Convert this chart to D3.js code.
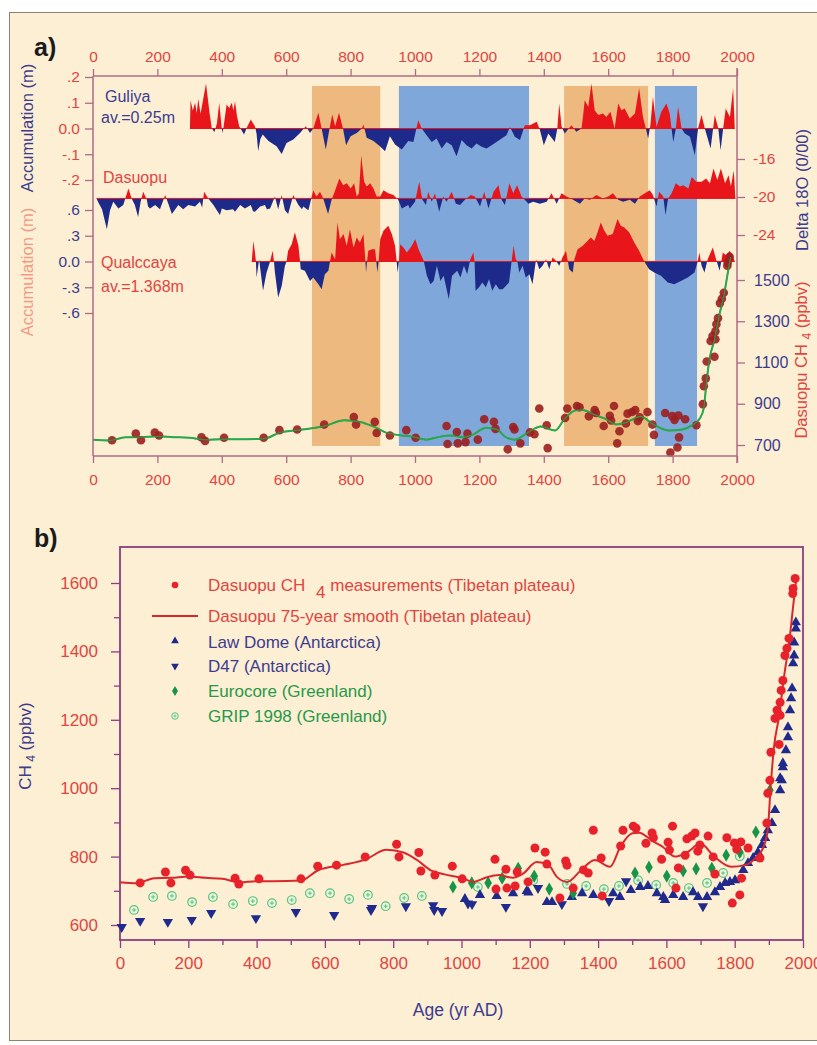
<!DOCTYPE html>
<html>
<head>
<meta charset="utf-8">
<script src="https://cdn.jsdelivr.net/npm/d3@7"></script>
<style>
body { margin: 0; background: #fff; }
text { font-family: "Liberation Sans", Arial, sans-serif; }
</style>
</head>
<body>
<script>
// ---- data ----
var AGE_TICKS = d3.range(0, 2001, 200)

// warm / cold periods shaded in panel a: [start, end, kind]
var PERIODS = [[680, 892, "warm"], [950, 1354, "cold"], [1463, 1724, "warm"], [1745, 1876, "cold"]]

// Guliya accumulation anomaly (m)
var GULIYA = [[301,0],[303,0.11],[310,0.07],[317,0.1],[322,0.06],[327,0.115],[334,0.057],[351,0.175],[362,0.06],[369,0],[377,-0.014],[385,0.02],[392,0.1],[400,0],[403,-0.017],[407,0.02],[415,0.093],[423,0.08],[431,0.1],[436,0.07],[441,0.106],[447,0.05],[454,0.009],[469,-0.023],[480,0.01],[490,0.035],[497,0.02],[503,0.009],[508,-0.02],[513,-0.088],[520,-0.04],[527,-0.023],[545,-0.049],[570,-0.069],[586,-0.099],[601,-0.056],[622,-0.043],[643,-0.017],[661,0.009],[674,-0.017],[684,0],[700,0.061],[710,0],[723,-0.082],[734,-0.004],[743,0.054],[752,0.009],[764,0.061],[777,-0.004],[786,-0.065],[800,-0.03],[819,-0.017],[835,0],[840,0.016],[850,-0.036],[871,-0.049],[891,-0.069],[907,-0.088],[922,-0.03],[938,-0.062],[959,-0.082],[979,-0.049],[995,-0.052],[1010,0.032],[1021,0],[1036,-0.026],[1052,-0.052],[1067,-0.039],[1083,-0.078],[1098,-0.052],[1114,-0.065],[1129,-0.108],[1145,-0.045],[1160,-0.065],[1176,-0.078],[1191,-0.058],[1207,-0.071],[1222,-0.078],[1238,-0.065],[1253,-0.052],[1269,-0.039],[1284,-0.026],[1295,0.006],[1310,-0.032],[1326,-0.045],[1341,0.013],[1357,0.013],[1378,0.026],[1388,-0.006],[1400,-0.065],[1414,-0.019],[1434,-0.052],[1442,0],[1448,0.097],[1455,0.01],[1458,0],[1465,-0.019],[1486,0.013],[1501,-0.013],[1517,0],[1522,0.05],[1527,0.11],[1538,0.084],[1548,0.175],[1558,0.071],[1569,0.052],[1584,0.058],[1594,0.045],[1607,0.065],[1620,0],[1631,0.097],[1641,0.071],[1651,0.078],[1667,0.039],[1683,0.058],[1696,0.156],[1708,0.045],[1717,0],[1724,-0.039],[1731,0.013],[1739,0.123],[1750,0.006],[1765,0.065],[1781,0.097],[1791,0.058],[1802,-0.052],[1810,0],[1817,0.084],[1828,0],[1838,-0.019],[1854,-0.032],[1869,-0.104],[1879,0],[1890,0.052],[1900,0],[1918,-0.078],[1931,0.052],[1942,0],[1949,-0.084],[1957,0],[1965,0.078],[1978,0.045],[1988,0.156],[1993,0]]

// Dasuopu delta 18O (per mil); fill is drawn about DASUOPU_MEAN
var DASUOPU_MEAN = -20.15
var DASUOPU = [[11,-20.15],[17,-20.6],[28,-21.3],[43,-23.4],[53,-21.4],[63,-20.5],[79,-21.2],[94,-20.85],[110,-19.1],[120,-20.15],[130,-20.85],[140,-22.1],[148,-20.5],[156,-19.45],[167,-20.3],[171,-21.0],[177,-21.2],[193,-20.85],[208,-21.3],[224,-19.8],[234,-20.7],[245,-21.8],[265,-20.85],[280,-21.3],[296,-20.85],[317,-21.0],[332,-20.5],[339,-21.1],[345,-19.45],[358,-20.15],[374,-20.85],[394,-21.9],[400,-21.2],[415,-21.4],[435,-21.3],[441,-21.55],[457,-20.85],[472,-21.2],[490,-20.85],[497,-21.5],[503,-21.55],[519,-21.0],[534,-20.85],[540,-21.3],[550,-21.2],[565,-19.95],[575,-21.3],[586,-19.8],[596,-21.4],[606,-21.8],[622,-19.8],[638,-20.85],[649,-21.3],[653,-21.0],[669,-21.4],[684,-19.3],[694,-19.95],[705,-19.45],[715,-20.15],[730,-21.8],[741,-20.3],[754,-19.1],[765,-18.05],[777,-18.75],[788,-18.55],[800,-19.1],[811,-18.55],[819,-19.95],[826,-19.6],[833,-15.6],[842,-18.4],[850,-18.9],[861,-18.55],[871,-19.1],[881,-19.95],[892,-19.95],[902,-19.3],[917,-19.6],[933,-19.8],[948,-20.3],[959,-21.2],[979,-20.85],[984,-21.2],[1000,-20.5],[1013,-18.4],[1023,-20.3],[1034,-20.85],[1041,-19.45],[1052,-20.5],[1062,-19.6],[1075,-21.55],[1088,-19.95],[1098,-20.5],[1114,-19.45],[1127,-20.7],[1140,-20.85],[1155,-20.3],[1173,-19.8],[1186,-19.95],[1202,-21.0],[1215,-19.45],[1228,-21.2],[1244,-19.45],[1259,-18.75],[1269,-20.3],[1279,-20.85],[1293,-18.55],[1305,-19.6],[1317,-18.75],[1331,-19.95],[1341,-20.3],[1352,-20.7],[1367,-20.5],[1388,-20.7],[1409,-20.5],[1424,-19.6],[1440,-20.7],[1455,-19.6],[1471,-19.95],[1491,-20.3],[1512,-20.7],[1527,-20.15],[1543,-20.3],[1563,-19.8],[1584,-20.15],[1600,-19.95],[1615,-19.6],[1631,-20.3],[1646,-20.5],[1667,-20.3],[1683,-20.7],[1698,-19.95],[1714,-19.6],[1729,-19.3],[1739,-19.8],[1750,-21.0],[1758,-19.45],[1771,-19.95],[1778,-21.9],[1786,-20.15],[1797,-19.6],[1810,-18.55],[1823,-18.9],[1833,-18.75],[1849,-19.1],[1859,-17.9],[1874,-18.4],[1890,-18.4],[1904,-18.05],[1916,-18.55],[1927,-17.0],[1939,-18.2],[1950,-17.0],[1963,-18.55],[1974,-17.7],[1981,-18.9],[1990,-17.2],[1995,-20.15]]

// Qualccaya accumulation anomaly (m)
var QUALCCAYA = [[493,0],[498,0.24],[503,0.105],[506,0],[508,-0.187],[516,0.027],[520,-0.1],[528,-0.342],[539,-0.128],[549,-0.012],[553,0.05],[558,0.125],[562,0],[565,-0.128],[575,-0.42],[586,-0.284],[596,-0.05],[601,0],[606,0.125],[617,0.2],[627,0.34],[638,0.183],[643,0],[645,-0.09],[658,-0.109],[674,-0.226],[684,-0.187],[700,-0.265],[710,-0.323],[720,-0.148],[731,-0.109],[736,0],[741,0.105],[752,0.027],[759,0.455],[767,0.26],[778,0.32],[788,0.183],[798,0.377],[809,0.163],[819,0.28],[829,0.222],[840,0.32],[846,0],[848,-0.128],[851,0],[855,0.125],[866,0.144],[876,0.144],[880,0],[883,-0.128],[887,0],[892,0.26],[902,0.358],[917,0.416],[928,0.32],[938,0.183],[943,0],[946,-0.128],[950,0],[954,0.2],[964,0.163],[975,0.105],[990,0.183],[1001,0.26],[1011,0.144],[1027,0.008],[1037,-0.167],[1048,-0.265],[1058,-0.226],[1068,-0.05],[1079,-0.226],[1089,-0.167],[1105,-0.44],[1115,-0.167],[1131,-0.109],[1141,-0.187],[1152,-0.05],[1162,-0.148],[1172,0.027],[1181,0.105],[1185,0],[1188,-0.342],[1199,-0.3],[1209,-0.245],[1220,-0.3],[1230,-0.206],[1240,-0.342],[1251,-0.265],[1261,-0.323],[1272,-0.323],[1282,-0.284],[1292,-0.245],[1300,0],[1306,0.183],[1313,0.027],[1318,0],[1324,-0.128],[1334,-0.05],[1344,-0.187],[1355,-0.148],[1365,-0.265],[1376,0.027],[1386,-0.09],[1396,-0.05],[1407,0.027],[1417,-0.09],[1427,0.047],[1438,0.008],[1448,-0.05],[1458,0.047],[1469,0.125],[1479,-0.09],[1490,-0.128],[1495,0.027],[1505,0.144],[1521,0.183],[1531,0.222],[1546,0.28],[1557,0.24],[1567,0.34],[1577,0.455],[1588,0.358],[1598,0.3],[1614,0.32],[1629,0.494],[1639,0.416],[1650,0.397],[1665,0.34],[1681,0.222],[1696,0.125],[1712,0],[1727,-0.09],[1743,-0.128],[1764,-0.167],[1785,-0.245],[1805,-0.265],[1826,-0.226],[1847,-0.187],[1868,-0.128],[1878,0],[1883,0.105],[1890,-0.05],[1899,-0.128],[1909,0.027],[1925,0.163],[1935,0.027],[1946,-0.109],[1956,0.105],[1967,0.066],[1977,0.125],[1987,0.066],[1993,0]]

// Dasuopu CH4 measurements (ppbv)
var DAS_CH4 = [[59,723],[133,755],[149,723],[192,760],[205,746],[337,737],[348,720],[407,735],[530,735],[579,772],[634,775],[718,799],[810,836],[817,799],[875,812],[881,758],[922,746],[973,772],[1002,735],[1098,792],[1101,705],[1130,763],[1133,708],[1157,714],[1163,755],[1195,726],[1215,825],[1245,813],[1250,778],[1288,679],[1305,787],[1309,775],[1327,708],[1357,761],[1371,752],[1386,877],[1409,796],[1412,685],[1466,831],[1473,877],[1503,889],[1511,883],[1540,839],[1558,869],[1562,855],[1586,792],[1605,842],[1609,819],[1618,889],[1628,708],[1635,767],[1655,804],[1660,852],[1674,860],[1684,869],[1692,816],[1698,834],[1722,860],[1737,799],[1742,749],[1777,855],[1793,664],[1799,840],[1806,822],[1815,688],[1818,843],[1820,737],[1839,825],[1874,796],[1894,898],[1897,985],[1903,1023],[1906,1105],[1918,1204],[1924,1228],[1930,1128],[1933,1213],[1933,1251],[1936,1286],[1941,1315],[1947,1388],[1953,1409],[1959,1438],[1970,1569],[1971,1584],[1977,1613]]

// Dasuopu 75-year smooth (ppbv)
var DAS_SMOOTH = [[0,725],[50,722],[100,737],[150,738],[200,742],[250,738],[300,735],[350,725],[400,728],[450,728],[530,730],[580,760],[650,775],[720,792],[780,820],[830,812],[870,790],[910,760],[950,748],[1000,738],[1035,726],[1070,738],[1110,746],[1150,738],[1180,750],[1220,784],[1255,775],[1280,740],[1310,726],[1350,760],[1390,790],[1435,770],[1465,828],[1500,868],[1520,870],[1560,845],[1590,828],[1625,800],[1660,812],[1700,838],[1740,800],[1790,770],[1830,775],[1860,795],[1885,830],[1897,880],[1905,1000],[1915,1120],[1930,1210],[1945,1330],[1960,1430],[1972,1540],[1980,1610]]

var LAW_DOME = [[1010,676],[1054,688],[1103,685],[1151,693],[1191,699],[1196,695],[1250,667],[1265,667],[1323,682],[1353,693],[1386,688],[1444,693],[1464,682],[1496,702],[1523,711],[1546,714],[1572,693],[1591,682],[1596,673],[1620,688],[1649,682],[1678,696],[1693,682],[1719,682],[1742,696],[1757,711],[1772,723],[1786,726],[1801,731],[1825,761],[1839,781],[1854,796],[1868,813],[1880,834],[1889,854],[1897,877],[1909,898],[1918,936],[1933,994],[1933,1029],[1938,1023],[1941,1061],[1941,1073],[1950,1111],[1956,1149],[1956,1178],[1962,1228],[1965,1263],[1968,1292],[1971,1365],[1974,1388],[1974,1426],[1979,1467],[1979,1485]]

var D47 = [[5,594],[59,612],[140,609],[210,615],[267,635],[398,620],[515,638],[627,629],[735,644],[738,650],[837,655],[917,658],[920,644],[943,641],[1019,663],[1031,661],[1130,653],[1224,708],[1294,661],[1432,670],[1482,728],[1707,655]]

var EUROCORE = [[975,711],[1030,723],[1078,723],[1119,737],[1166,766],[1213,743],[1257,705],[1327,693],[1508,752],[1549,769],[1601,743],[1649,758],[1687,764],[1733,766],[1775,804],[1815,813],[1862,872],[1903,994]]

var GRIP = [[41,644],[97,682],[152,685],[211,667],[272,682],[331,661],[389,670],[445,664],[503,673],[556,693],[615,693],[671,676],[726,688],[778,655],[832,679],[884,685],[1048,711],[1210,731],[1309,720],[1365,714],[1417,705],[1461,714],[1517,731],[1570,717],[1620,723],[1666,708],[1719,723],[1766,752],[1815,801]]

var LEGEND = ["Law Dome (Antarctica)", "D47 (Antarctica)", "Eurocore (Greenland)", "GRIP 1998 (Greenland)"]

// ---- colours ----
var CREAM = "#fdefd4", RED_TXT = "#e2453f", NAVY_TXT = "#3c3c8e", SALMON = "#f29a86"
var AXIS_A = "#b06a86", AXIS_B = "#8d3d7f"
var FILL_RED = "#e8151b", FILL_BLUE = "#1d2a8a"
var BAND = { warm: "#edb97e", cold: "#7fa7d9" }
var PT_A = "#9b1f1f", LINE_A = "#2aa84b", PT_B = "#e8222a", LINE_B = "#d8282c"
var TRI = "#1f2a8c", EURO = "#169447", GRIP_C = "#5cc27c", GREEN_TXT = "#27994a"

var svg = d3.select("body").append("svg").attr("width", 817).attr("height", 1045)
svg.append("rect").attr("x", 9.5).attr("y", 12.5).attr("width", 820).attr("height", 1028)
    .attr("fill", CREAM).attr("stroke", "#8c8270")

function label(g, txt, x, y, size, color, anchor, extra) {
    var t = g.append("text").attr("x", x).attr("y", y).attr("font-size", size)
        .attr("fill", color).attr("text-anchor", anchor || "start").text(txt)
    if (extra) extra(t)
    return t
}
function vlabel(g, txt, x, y, size, color) {
    return g.append("text").attr("transform", "translate(" + x + "," + y + ") rotate(-90)")
        .attr("text-anchor", "middle").attr("font-size", size).attr("fill", color).text(txt)
}
function styleAxis(g, color, txtColor, size) {
    g.select(".domain").remove()
    g.selectAll(".tick line").attr("stroke", color).attr("stroke-width", 1.3)
    g.selectAll(".tick text").attr("fill", txtColor).attr("font-size", size)
        .attr("font-family", "Liberation Sans, Arial, sans-serif")
}

// ================= panel a =================
var a = svg.append("g")
var xA = d3.scaleLinear().domain([0, 2000]).range([93, 737])
var yGul = d3.scaleLinear().domain([-0.2, 0.2]).range([180, 77])
var yDas = d3.scaleLinear().domain([-24, -16]).range([235, 159])
var yQual = d3.scaleLinear().domain([-0.6, 0.6]).range([313, 210])
var yCHa = d3.scaleLinear().domain([700, 1500]).range([445, 280])

a.selectAll("rect.band").data(PERIODS).enter().append("rect")
    .attr("x", function(d) { return xA(d[0]) }).attr("y", 86)
    .attr("width", function(d) { return xA(d[1]) - xA(d[0]) }).attr("height", 360)
    .attr("fill", function(d) { return BAND[d[2]] })

var defs = svg.append("defs")
function anomaly(id, data, y, base) {
    var yb = y(base)
    defs.append("clipPath").attr("id", id + "-up").append("rect")
        .attr("x", 0).attr("y", 0).attr("width", 817).attr("height", yb)
    defs.append("clipPath").attr("id", id + "-dn").append("rect")
        .attr("x", 0).attr("y", yb).attr("width", 817).attr("height", 1045 - yb)
    var area = d3.area().x(function(d) { return xA(d[0]) }).y0(yb).y1(function(d) { return y(d[1]) })
    a.append("path").datum(data).attr("d", area).attr("fill", FILL_RED).attr("clip-path", "url(#" + id + "-up)")
    a.append("path").datum(data).attr("d", area).attr("fill", FILL_BLUE).attr("clip-path", "url(#" + id + "-dn)")
    var ext = d3.extent(data, function(d) { return d[0] })
    a.append("line").attr("x1", xA(ext[0])).attr("x2", xA(ext[1])).attr("y1", yb).attr("y2", yb)
        .attr("stroke", FILL_RED).attr("stroke-width", 1)
}
anomaly("gul", GULIYA, yGul, 0)
anomaly("das", DASUOPU, yDas, DASUOPU_MEAN)
anomaly("qua", QUALCCAYA, yQual, 0)

var smoothA = d3.line().x(function(d) { return xA(d[0]) }).y(function(d) { return yCHa(d[1]) }).curve(d3.curveMonotoneX)
a.append("path").datum(DAS_SMOOTH).attr("d", smoothA).attr("fill", "none").attr("stroke", LINE_A).attr("stroke-width", 2)
a.selectAll("circle.cha").data(DAS_CH4).enter().append("circle")
    .attr("cx", function(d) { return xA(d[0]) }).attr("cy", function(d) { return yCHa(d[1]) })
    .attr("r", 4.3).attr("fill", PT_A).attr("fill-opacity", 0.9)
a.append("path").datum(DAS_SMOOTH).attr("d", smoothA).attr("fill", "none").attr("stroke", LINE_A).attr("stroke-width", 1.4).attr("stroke-opacity", 0.8)

// frame lines of panel a
a.append("line").attr("x1", 93).attr("x2", 737).attr("y1", 76).attr("y2", 76).attr("stroke", AXIS_A).attr("stroke-width", 1.5)
a.append("line").attr("x1", 93).attr("x2", 737).attr("y1", 456).attr("y2", 456).attr("stroke", AXIS_A).attr("stroke-width", 1.5)
a.append("line").attr("x1", 93).attr("x2", 93).attr("y1", 76).attr("y2", 456).attr("stroke", AXIS_A).attr("stroke-width", 1.5)
a.append("line").attr("x1", 737).attr("x2", 737).attr("y1", 68).attr("y2", 463).attr("stroke", AXIS_A).attr("stroke-width", 1.5)

var gT = a.append("g").attr("transform", "translate(0,76)")
    .call(d3.axisTop(xA).tickValues(AGE_TICKS).tickSize(7).tickPadding(7).tickFormat(d3.format("d")))
styleAxis(gT, AXIS_A, RED_TXT, 15.5)
var gB = a.append("g").attr("transform", "translate(0,456)")
    .call(d3.axisBottom(xA).tickValues(AGE_TICKS).tickSize(7).tickPadding(11).tickFormat(d3.format("d")))
styleAxis(gB, AXIS_A, RED_TXT, 15.5)

function accFmt(d) {
    if (d === 0) return "0.0"
    var s = d3.format(".1f")(Math.abs(d)).replace(/^0/, "")
    return (d < 0 ? "-" : "") + s
}
var gL1 = a.append("g").attr("transform", "translate(93,0)")
    .call(d3.axisLeft(yGul).tickValues([0.2, 0.1, 0, -0.1, -0.2]).tickSize(8).tickPadding(5).tickFormat(accFmt))
styleAxis(gL1, AXIS_A, RED_TXT, 15.5)
var gL2 = a.append("g").attr("transform", "translate(93,0)")
    .call(d3.axisLeft(yQual).tickValues([0.6, 0.3, 0, -0.3, -0.6]).tickSize(8).tickPadding(5).tickFormat(accFmt))
styleAxis(gL2, AXIS_A, NAVY_TXT, 15.5)
var gR1 = a.append("g").attr("transform", "translate(737,0)")
    .call(d3.axisRight(yDas).tickValues([-16, -20, -24]).tickSize(8).tickPadding(8).tickFormat(d3.format("d")))
styleAxis(gR1, AXIS_A, RED_TXT, 15.5)
gR1.selectAll(".tick text").text(function(d) { return "-" + Math.abs(d) })
var gR2 = a.append("g").attr("transform", "translate(737,0)")
    .call(d3.axisRight(yCHa).tickValues([1500, 1300, 1100, 900, 700]).tickSize(8).tickPadding(9).tickFormat(d3.format("d")))
styleAxis(gR2, AXIS_A, NAVY_TXT, 16)

label(a, "a)", 34, 56, 25, "#1a1a1a", "start", function(t) { t.attr("font-weight", "bold") })
label(a, "Guliya", 105, 102, 16, NAVY_TXT)
label(a, "av.=0.25m", 101, 123, 16, NAVY_TXT)
label(a, "Dasuopu", 103, 183, 16, RED_TXT)
label(a, "Qualccaya", 101, 268, 16, RED_TXT)
label(a, "av.=1.368m", 101, 292, 16, RED_TXT)
vlabel(a, "Accumulation (m)", 33, 128, 16.5, NAVY_TXT)
vlabel(a, "Accumulation (m)", 33, 272, 16.5, SALMON)
vlabel(a, "Delta 18O (0/00)", 808, 190, 16.5, NAVY_TXT)
var chT = a.append("text").attr("transform", "translate(807,360) rotate(-90)")
    .attr("text-anchor", "middle").attr("font-size", 16.5).attr("fill", RED_TXT)
chT.append("tspan").text("Dasuopu CH ")
chT.append("tspan").attr("dy", 4).attr("font-size", 12).text("4")
chT.append("tspan").attr("dy", -4).text(" (ppbv)")

// ================= panel b =================
var b = svg.append("g")
var xB = d3.scaleLinear().domain([0, 2000]).range([120, 803])
var yB = d3.scaleLinear().domain([600, 1600]).range([925, 583])

b.append("rect").attr("x", 120).attr("y", 547).attr("width", 683).attr("height", 393)
    .attr("fill", "none").attr("stroke", AXIS_B).attr("stroke-width", 1.8)

var gBx = b.append("g").attr("transform", "translate(0,940)")
    .call(d3.axisBottom(xB).tickValues(AGE_TICKS).tickSize(8).tickPadding(9).tickFormat(d3.format("d")))
styleAxis(gBx, AXIS_B, RED_TXT, 17)
var gBxm = b.append("g").attr("transform", "translate(0,940)")
    .call(d3.axisBottom(xB).tickValues(d3.range(100, 2000, 200)).tickSize(5).tickFormat(""))
styleAxis(gBxm, AXIS_B, RED_TXT, 17)
var gBy = b.append("g").attr("transform", "translate(120,0)")
    .call(d3.axisLeft(yB).tickValues(d3.range(600, 1601, 200)).tickSize(9).tickPadding(13).tickFormat(d3.format("d")))
styleAxis(gBy, AXIS_B, RED_TXT, 17)
var gBym = b.append("g").attr("transform", "translate(120,0)")
    .call(d3.axisLeft(yB).tickValues(d3.range(700, 1600, 200)).tickSize(6).tickFormat(""))
styleAxis(gBym, AXIS_B, RED_TXT, 17)

function px(d) { return xB(d[0]) }
function py(d) { return yB(d[1]) }
function tr(d) { return "translate(" + px(d) + "," + py(d) + ")" }

var grip = b.selectAll("g.grip").data(GRIP).enter().append("g").attr("transform", tr)
grip.append("circle").attr("r", 4.3).attr("fill", "#eaf6df").attr("stroke", GRIP_C).attr("stroke-width", 1.2)
grip.append("path").attr("d", "M-2,0H2M0,-2V2").attr("stroke", GRIP_C).attr("stroke-width", 1)

b.selectAll("path.d47").data(D47).enter().append("path")
    .attr("transform", function(d) { return tr(d) + " rotate(180)" })
    .attr("d", d3.symbol().type(d3.symbolTriangle).size(46)).attr("fill", TRI)
b.selectAll("path.law").data(LAW_DOME).enter().append("path")
    .attr("transform", tr).attr("d", d3.symbol().type(d3.symbolTriangle).size(46)).attr("fill", TRI)
b.selectAll("path.euro").data(EUROCORE).enter().append("path")
    .attr("transform", tr).attr("d", d3.symbol().type(d3.symbolDiamond).size(50)).attr("fill", EURO)

var smoothB = d3.line().x(px).y(py).curve(d3.curveMonotoneX)
b.append("path").datum(DAS_SMOOTH).attr("d", smoothB).attr("fill", "none").attr("stroke", LINE_B).attr("stroke-width", 2)
b.selectAll("circle.dch").data(DAS_CH4).enter().append("circle")
    .attr("cx", px).attr("cy", py).attr("r", 4.5).attr("fill", PT_B)

// legend
var lg = b.append("g")
lg.append("circle").attr("cx", 175).attr("cy", 585).attr("r", 3.3).attr("fill", PT_B)
var t1 = lg.append("text").attr("x", 208).attr("y", 591).attr("font-size", 17).attr("fill", RED_TXT)
t1.append("tspan").text("Dasuopu CH ")
t1.append("tspan").attr("dy", 7).attr("dx", 6).text("4")
t1.append("tspan").attr("dy", -7).text(" measurements (Tibetan plateau)")
lg.append("line").attr("x1", 152).attr("x2", 198).attr("y1", 616).attr("y2", 616).attr("stroke", LINE_B).attr("stroke-width", 1.8)
label(lg, "Dasuopu 75-year smooth (Tibetan plateau)", 208, 622, 17, RED_TXT)
var rows = [642, 666, 691, 716]
lg.append("path").attr("transform", "translate(175," + (rows[0] - 1) + ")").attr("d", d3.symbol().type(d3.symbolTriangle).size(26)).attr("fill", TRI)
lg.append("path").attr("transform", "translate(175," + rows[1] + ") rotate(180)").attr("d", d3.symbol().type(d3.symbolTriangle).size(26)).attr("fill", TRI)
lg.append("path").attr("transform", "translate(175," + rows[2] + ")").attr("d", d3.symbol().type(d3.symbolDiamond).size(30)).attr("fill", EURO)
var lgGrip = lg.append("g").attr("transform", "translate(175," + rows[3] + ")")
lgGrip.append("circle").attr("r", 3.3).attr("fill", "#eaf6df").attr("stroke", GRIP_C).attr("stroke-width", 1)
lgGrip.append("path").attr("d", "M-1.5,0H1.5M0,-1.5V1.5").attr("stroke", GRIP_C).attr("stroke-width", 0.8)
LEGEND.forEach(function(s, i) {
    label(lg, s, 208, rows[i] + 6, 17, i < 2 ? NAVY_TXT : GREEN_TXT)
})

label(b, "b)", 34, 547, 25, "#1a1a1a", "start", function(t) { t.attr("font-weight", "bold") })
label(b, "Age  (yr AD)", 458, 1016, 17.5, NAVY_TXT, "middle")
var yt = b.append("text").attr("transform", "translate(31,746) rotate(-90)")
    .attr("text-anchor", "middle").attr("font-size", 17).attr("fill", NAVY_TXT)
yt.append("tspan").text("CH")
yt.append("tspan").attr("dy", 4).attr("font-size", 12).text(" 4")
yt.append("tspan").attr("dy", -4).text(" (ppbv)")
</script>
</body>
</html>
